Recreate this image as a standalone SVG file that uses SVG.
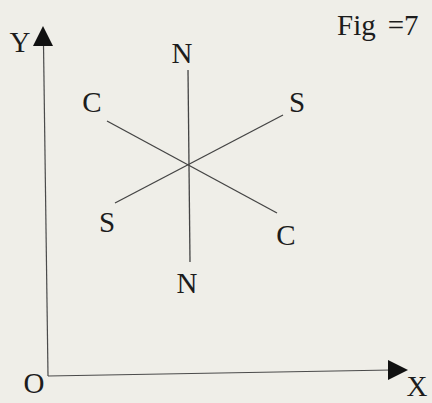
<svg xmlns="http://www.w3.org/2000/svg" width="432" height="403" viewBox="0 0 432 403">
<style>
.t{font-family:"Liberation Serif","Times New Roman",serif;font-size:29px;fill:#1c1c1c}
.ax{stroke:#4a4a4a;stroke-width:1.2;fill:none}
.ln{stroke:#444;stroke-width:1.3;fill:none}
</style>
<rect width="432" height="403" fill="#efeee8"/>
<g id="connectors">
<line class="ax" x1="43.5" y1="44" x2="48" y2="376"/>
<polygon points="43,26 33,46 53,46" fill="#111"/>
<line class="ax" x1="48" y1="376" x2="392" y2="370"/>
<polygon points="408,370 388,360 388,380" fill="#111"/>
<line class="ln" x1="188" y1="70" x2="190" y2="262"/>
<line class="ln" x1="107" y1="121" x2="277" y2="213"/>
<line class="ln" x1="115" y1="203" x2="283" y2="115"/>
</g>
<g id="labels">
<text class="t" x="20" y="52" text-anchor="middle">Y</text>
<text class="t" x="34" y="393" text-anchor="middle">O</text>
<text class="t" x="417" y="396" text-anchor="middle">X</text>
<text class="t" x="337" y="35">Fig<tspan dx="12">=7</tspan></text>
<text class="t" x="182" y="63" text-anchor="middle">N</text>
<text class="t" x="187" y="293" text-anchor="middle">N</text>
<text class="t" x="92" y="112" text-anchor="middle">C</text>
<text class="t" x="286" y="245" text-anchor="middle">C</text>
<text class="t" x="297" y="112" text-anchor="middle">S</text>
<text class="t" x="107" y="232" text-anchor="middle">S</text>
</g>
</svg>
